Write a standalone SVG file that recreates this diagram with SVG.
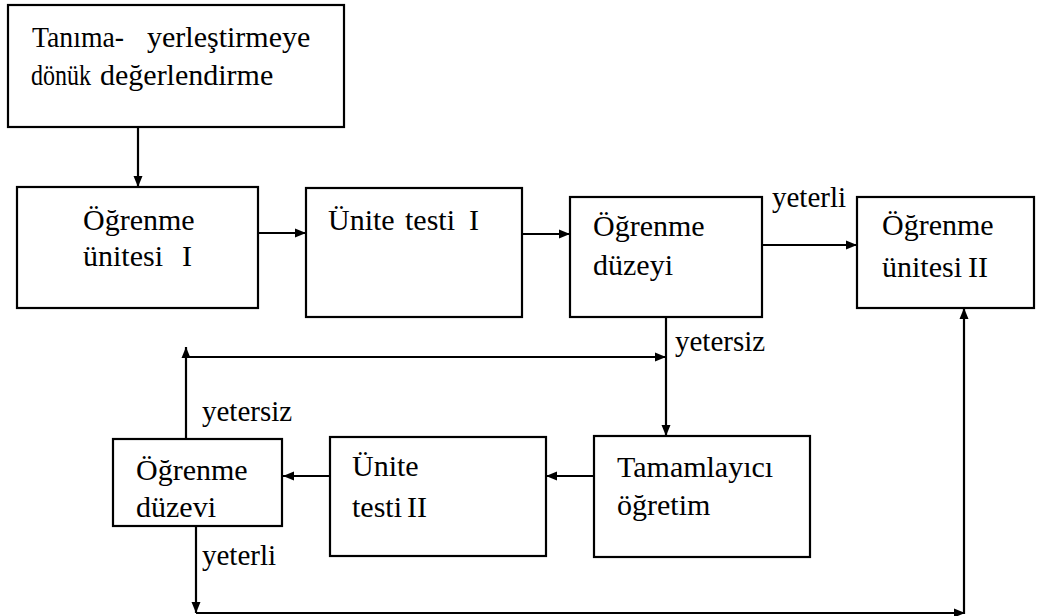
<svg xmlns="http://www.w3.org/2000/svg" width="1041" height="616" viewBox="0 0 1041 616">
  <style>
    .box { fill: #ffffff; stroke: #000000; stroke-width: 2.2; }
    .t { font-family: "Liberation Serif", "Times New Roman", "DejaVu Serif", serif; font-size: 30px; fill: #000000; }
    .lbl { font-family: "Liberation Serif", "Times New Roman", "DejaVu Serif", serif; font-size: 29px; fill: #000000; }
    .arr { fill: none; stroke: #000000; stroke-width: 2.2; marker-end: url(#head); }
  </style>
  <defs>
    <marker id="head" markerUnits="userSpaceOnUse" markerWidth="12" markerHeight="10" refX="11" refY="5" orient="auto">
      <path d="M0,0.5 L11,5 L0,9.5 z" fill="#000000"/>
    </marker>
  </defs>

  <rect width="1041" height="616" fill="#ffffff"/>

  <!-- connectors and their labels -->
  <g id="connectors">
    <line class="arr" x1="138" y1="127" x2="138" y2="187"/>
    <line class="arr" x1="258" y1="233" x2="306" y2="233"/>
    <line class="arr" x1="522" y1="234" x2="570" y2="234"/>
    <line class="arr" x1="762" y1="245" x2="857" y2="245"/>
    <line class="arr" x1="666" y1="317" x2="666" y2="436"/>
    <line class="arr" x1="186" y1="439" x2="186" y2="347"/>
    <line class="arr" x1="186" y1="357" x2="666" y2="357"/>
    <line class="arr" x1="594" y1="476" x2="546" y2="476"/>
    <line class="arr" x1="330" y1="476" x2="283" y2="476"/>
    <line class="arr" x1="196" y1="526" x2="196" y2="613"/>
    <line class="arr" x1="196" y1="613" x2="965" y2="613"/>
    <line class="arr" x1="964" y1="614" x2="964" y2="308"/>
    <text class="lbl" x="772" y="207">yeterli</text>
    <text class="lbl" x="675" y="351">yetersiz</text>
    <text class="lbl" x="202" y="421">yetersiz</text>
    <text class="lbl" x="202" y="565">yeterli</text>
  </g>

  <!-- nodes -->
  <g id="node-tanima">
    <rect class="box" x="8" y="5" width="336" height="122"/>
    <text class="t" x="32" y="47" textLength="92" lengthAdjust="spacingAndGlyphs">Tanıma-</text>
    <text class="t" x="147" y="47">yerleştirmeye</text>
    <text class="t" x="31" y="85" textLength="60" lengthAdjust="spacingAndGlyphs">dönük</text>
    <text class="t" x="100" y="85">değerlendirme</text>
  </g>

  <g id="node-ogrenme-unitesi-1">
    <rect class="box" x="17" y="187" width="241" height="121"/>
    <text class="t" x="83" y="230">Öğrenme</text>
    <text class="t" y="266"><tspan x="83">ünitesi</tspan><tspan x="182">I</tspan></text>
  </g>

  <g id="node-unite-testi-1">
    <rect class="box" x="306" y="188" width="216" height="129"/>
    <text class="t" y="230"><tspan x="328">Ünite</tspan><tspan x="405">testi</tspan><tspan x="469">I</tspan></text>
  </g>

  <g id="node-ogrenme-duzeyi">
    <rect class="box" x="570" y="197" width="192" height="120"/>
    <text class="t" x="593" y="236">Öğrenme</text>
    <text class="t" x="593" y="275">düzeyi</text>
  </g>

  <g id="node-ogrenme-unitesi-2">
    <rect class="box" x="857" y="197" width="177" height="111"/>
    <text class="t" x="882" y="235">Öğrenme</text>
    <text class="t" y="277"><tspan x="882">ünitesi</tspan><tspan x="968">II</tspan></text>
  </g>

  <g id="node-ogrenme-duzevi">
    <rect class="box" x="113" y="439" width="169" height="87"/>
    <text class="t" x="136" y="480">Öğrenme</text>
    <text class="t" x="136" y="517">düzevi</text>
  </g>

  <g id="node-unite-testi-2">
    <rect class="box" x="330" y="437" width="216" height="119"/>
    <text class="t" x="352" y="476">Ünite</text>
    <text class="t" y="517"><tspan x="352">testi</tspan><tspan x="407">II</tspan></text>
  </g>

  <g id="node-tamamlayici">
    <rect class="box" x="594" y="436" width="216" height="121"/>
    <text class="t" x="617" y="477">Tamamlayıcı</text>
    <text class="t" x="617" y="515">öğretim</text>
  </g>
</svg>
